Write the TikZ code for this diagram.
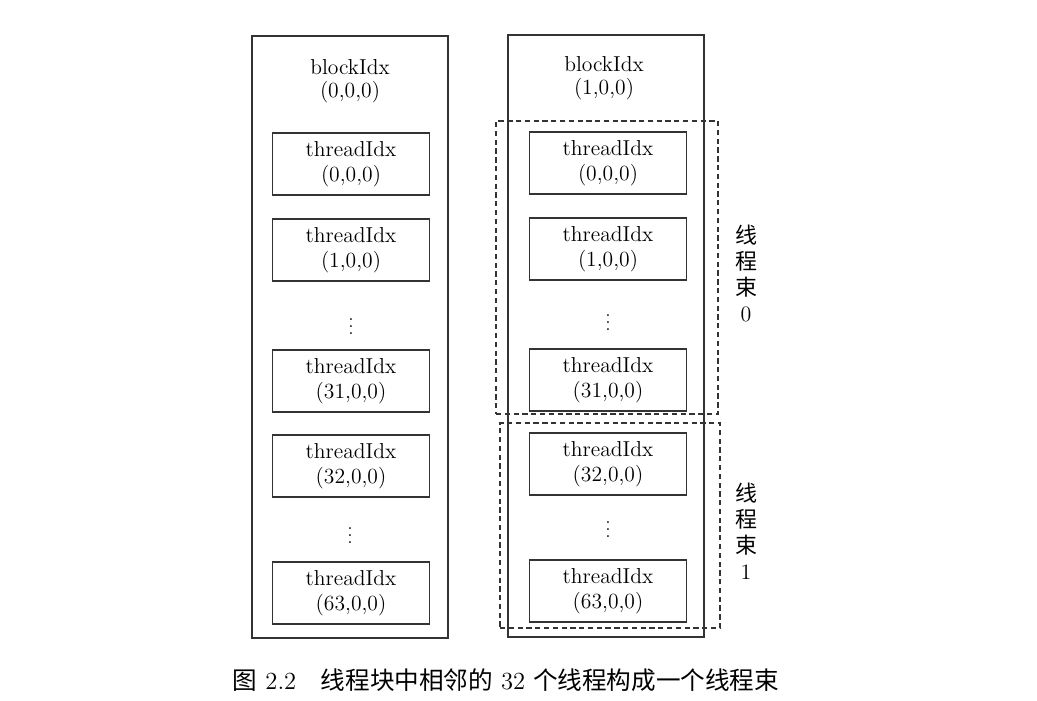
\documentclass[tikz,border=0pt]{standalone}
\usepackage{fontspec}
\newfontfamily\cjk{Noto Sans CJK SC}

\begin{document}
\begin{tikzpicture}[
    x=0.02cm, y=-0.02cm,
    block/.style={rectangle, draw=black!80, line width=0.8pt, minimum width=3.92cm, minimum height=12.04cm},
    thread/.style={rectangle, draw=black!80, line width=0.8pt, minimum width=3.14cm, minimum height=1.24cm, align=center, font=\fontsize{12.3}{14.5}\selectfont, inner sep=0pt},
    idx/.style={align=center, font=\fontsize{12.3}{12.8}\selectfont},
    dots/.style={inner sep=0pt},
    warp/.style={rectangle, draw=black!80, line width=0.8pt, dash pattern=on 3pt off 2pt},
    warplabel/.style={align=center, font=\fontsize{12.5}{14.8}\selectfont}
]

\useasboundingbox (0,0) rectangle (1037,700);

\node[block] (blk0) at (350,337){};
\node[block] (blk1) at (606,336){};

\node[idx] (bidx0) at (350,81){blockIdx\\(0,0,0)};
\node[idx] (bidx1) at (604,78){blockIdx\\(1,0,0)};

\node[thread] (a1) at (351,164){threadIdx\\(0,0,0)};
\node[thread] (a2) at (351,250){threadIdx\\(1,0,0)};
\node[dots] (adots1) at (351,321){$\vdots$};
\node[thread] (a3) at (351,381){threadIdx\\(31,0,0)};
\node[thread] (a4) at (351,466){threadIdx\\(32,0,0)};
\node[dots] (adots2) at (350,530){$\vdots$};
\node[thread] (a5) at (351,593){threadIdx\\(63,0,0)};

\node[thread] (b1) at (608,163){threadIdx\\(0,0,0)};
\node[thread] (b2) at (608,249){threadIdx\\(1,0,0)};
\node[dots] (bdots1) at (608,317){$\vdots$};
\node[thread] (b3) at (608,380){threadIdx\\(31,0,0)};
\node[thread] (b4) at (608,464){threadIdx\\(32,0,0)};
\node[dots] (bdots2) at (608,524){$\vdots$};
\node[thread] (b5) at (608,591){threadIdx\\(63,0,0)};

\node[warp, minimum width=4.44cm, minimum height=5.86cm] (w0) at (607,267.5){};
\node[warp, minimum width=4.40cm, minimum height=4.10cm] (w1) at (610,525.5){};

\node[warplabel] (lw0) at (746,273){{\cjk 线}\\{\cjk 程}\\{\cjk 束}\\0};
\node[warplabel] (lw1) at (746,531){{\cjk 线}\\{\cjk 程}\\{\cjk 束}\\1};

\node[font=\fontsize{14}{16}\selectfont] (cap) at (506,680){{\cjk 图} 2.2\quad {\cjk 线程块中相邻的} 32 {\cjk 个线程构成一个线程束}};

\end{tikzpicture}
\end{document}
